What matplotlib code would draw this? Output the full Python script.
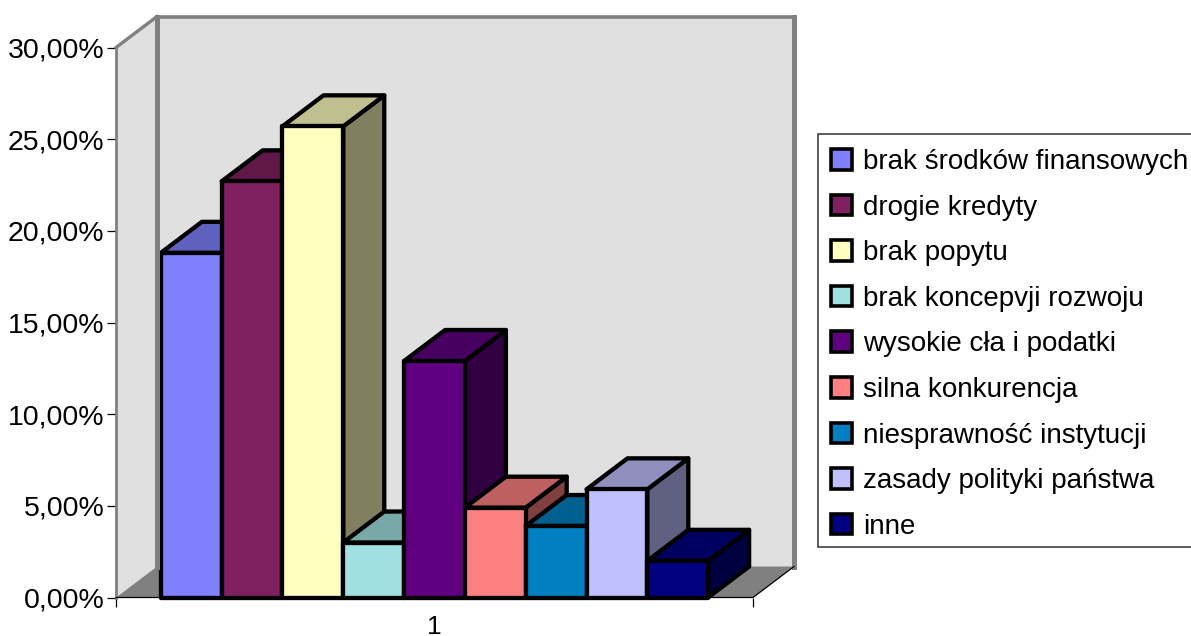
import matplotlib
matplotlib.use('Agg')
import matplotlib.pyplot as plt
from matplotlib.patches import Patch, Rectangle

# data
series_names = ['brak środków finansowych', 'drogie kredyty', 'brak popytu',
                'brak koncepvji rozwoju', 'wysokie cła i podatki', 'silna konkurencja',
                'niesprawność instytucji', 'zasady polityki państwa', 'inne']
series_values = [18.8, 22.7, 25.7, 3.0, 12.9, 4.9, 3.9, 5.9, 2.0]
series_colors = ['#8080ff', '#802060', '#ffffc0', '#a0e0e0', '#600080',
                 '#ff8080', '#0080c0', '#c0c0ff', '#000080']
y_ticks = [0, 5, 10, 15, 20, 25, 30]
y_tick_labels = ['0,00%', '5,00%', '10,00%', '15,00%', '20,00%', '25,00%', '30,00%']
category_label = '1'

W, H = 1191, 636
plt.rcParams['font.family'] = ['Liberation Sans', 'DejaVu Sans']


def shade(color, k):
    r, g, b = matplotlib.colors.to_rgb(color)
    return (r * k, g * k, b * k)


fig = plt.figure(figsize=(W / 100, H / 100), dpi=100, facecolor='white')
ax = fig.add_axes([116 / W, 1 - 597.5 / H, 637 / W, 550 / H])
ax.patch.set_visible(False)

# 9 bars of width 1, side gap and 3d depth in the same units
gap = 0.738
xmin, xmax = -0.5 - gap, 8.5 + gap
ax.set_xlim(xmin, xmax)
ax.set_ylim(0, 30)
depth_x = 0.674
depth_y = 1.69

# walls and floor
wall = '#e0e0e0'
grey = '#808080'
ax.fill([xmin + depth_x, xmax + depth_x, xmax + depth_x, xmin + depth_x],
        [depth_y, depth_y, 30 + depth_y, 30 + depth_y], color=wall, lw=0, clip_on=False)
ax.fill([xmin, xmin + depth_x, xmin + depth_x, xmin],
        [0, depth_y, 30 + depth_y, 30], color=wall, lw=0, clip_on=False)
ax.fill([xmin, xmin + depth_x, xmax + depth_x, xmax],
        [0, depth_y, depth_y, 0], color=grey, lw=0, clip_on=False)
ax.plot([xmin + depth_x, xmin + depth_x], [0 + depth_y, 30 + depth_y], color=grey, lw=3.6,
        clip_on=False, solid_capstyle='projecting')
ax.plot([xmin + depth_x, xmax + depth_x, xmax + depth_x], [30 + depth_y, 30 + depth_y, depth_y],
        color=grey, lw=2.6, clip_on=False, solid_joinstyle='miter')
ax.plot([xmax + depth_x, xmax + depth_x], [30 + depth_y, depth_y], color=grey, lw=3.6,
        clip_on=False, solid_capstyle='projecting')
ax.plot([xmin, xmin + depth_x], [30, 30 + depth_y], color=grey, lw=2.4, clip_on=False)
ax.plot([xmin, xmin], [0, 30], color=grey, lw=2.0, clip_on=False)
ax.plot([xmin, xmax, xmax + depth_x], [0, 0, depth_y], color='black', lw=0.9, clip_on=False)

# bars, left to right so the later ones cover the earlier sides
edge = dict(edgecolor='black', linewidth=3.1, joinstyle='round', clip_on=False)
for i, (val, col) in enumerate(zip(series_values, series_colors)):
    x0, x1 = i - 0.5, i + 0.5
    ax.fill([x1, x1 + depth_x, x1 + depth_x, x1], [0, depth_y, val + depth_y, val],
            facecolor=shade(col, 0.5), **edge)
    ax.fill([x0, x0 + depth_x, x1 + depth_x, x1], [val, val + depth_y, val + depth_y, val],
            facecolor=shade(col, 0.75), **edge)
    ax.fill([x0, x1, x1, x0], [0, 0, val, val], facecolor=col, **edge)

for s in ax.spines.values():
    s.set_visible(False)

ax.set_yticks(y_ticks)
ax.set_yticklabels(y_tick_labels, fontsize=20.5)
ax.tick_params(axis='y', length=6.5, width=0.9, pad=2, color='black')
ax.set_xticks([xmin, xmax])
ax.set_xticklabels(['', ''])
ax.tick_params(axis='x', length=6.5, width=0.9)
ax.set_xticks([(xmin + xmax) / 2], [category_label], minor=True, fontsize=19)
ax.tick_params(axis='x', which='minor', length=0, pad=12.5)

# legend, its box runs off the right edge of the picture
fig.add_artist(Rectangle((818 / W, 1 - 547 / H), 380 / W, 413 / H, transform=fig.transFigure,
                         facecolor='white', edgecolor='#303030', linewidth=1.1))
handles = [Patch(facecolor=c, edgecolor='black', linewidth=2.6) for c in series_colors]
leg = fig.legend(handles, series_names, loc='upper left',
                 bbox_to_anchor=(818 / W, 1 - 136 / H), borderaxespad=0,
                 fontsize=20, frameon=False,
                 handlelength=0.76, handleheight=0.76, handletextpad=0.38,
                 labelspacing=0.705, borderpad=0.47)

fig.savefig('out.png', dpi=100)
plt.close(fig)
